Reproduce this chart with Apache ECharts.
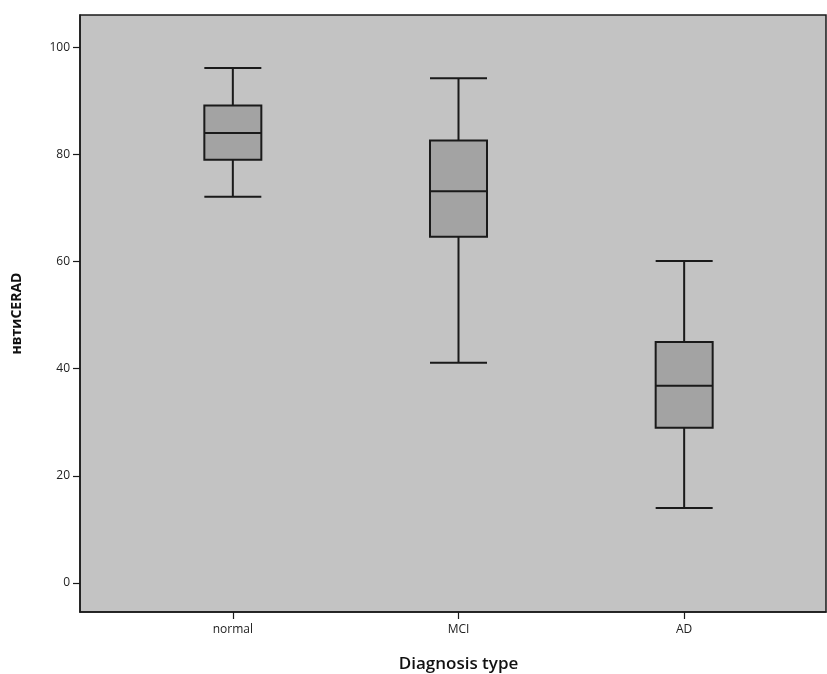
<!DOCTYPE html>
<html>
<head>
<meta charset="utf-8">
<script src="https://cdn.jsdelivr.net/npm/echarts@6/dist/echarts.min.js"></script>
<style>
  html, body { margin: 0; padding: 0; background: #fff; }
  #chart { width: 827px; height: 674px; }
</style>
</head>
<body>
<div id="chart"></div>
<script>
const categories = ['normal', 'MCI', 'AD'];
// [min, Q1, median, Q3, max]
const boxValues = [
  [72.1, 79.0, 84.0, 89.1, 96.1],
  [41.1, 64.6, 73.1, 82.6, 94.2],
  [14.0, 29.0, 36.8, 45.0, 60.1]
];
const yTicks = [0, 20, 40, 60, 80, 100];

const chart = echarts.init(document.getElementById('chart'));

const yMin = -5.4;
const yMax = 106;
const font = '"Open Sans", "DejaVu Sans", sans-serif';

const option = {
  backgroundColor: '#ffffff',
  grid: [
    {
      // frame with grey plot background
      left: 80, right: 1, top: 15, bottom: 62,
      show: true,
      backgroundColor: '#c3c3c3',
      borderColor: '#1a1a1a',
      borderWidth: 1.5,
      outerBoundsMode: 'none'
    },
    {
      // band for the three boxes
      left: 120, width: 677, top: 15, bottom: 62,
      outerBoundsMode: 'none'
    }
  ],
  xAxis: [
    {
      gridIndex: 0,
      type: 'value',
      min: 0, max: 1,
      axisLine: { show: true, onZero: false, lineStyle: { color: '#1a1a1a', width: 1.5 } },
      axisTick: { show: false },
      axisLabel: { show: false },
      splitLine: { show: false }
    },
    {
      gridIndex: 1,
      type: 'category',
      data: categories,
      axisLine: { show: false, onZero: false },
      axisTick: { show: true, alignWithLabel: true, length: 7, lineStyle: { color: '#1a1a1a', width: 1.2 } },
      axisLabel: { color: '#222', fontSize: 12, fontFamily: font, margin: 12 },
      name: 'Diagnosis type',
      nameLocation: 'middle',
      nameGap: 44,
      nameTextStyle: { color: '#111', fontSize: 17, fontWeight: 600, fontFamily: font }
    }
  ],
  yAxis: [
    {
      gridIndex: 0,
      type: 'value',
      min: yMin, max: yMax,
      axisLine: { show: true, onZero: false, lineStyle: { color: '#1a1a1a', width: 1.5 } },
      axisTick: { show: true, length: 7, customValues: yTicks, lineStyle: { color: '#1a1a1a', width: 1.2 } },
      axisLabel: { customValues: yTicks, color: '#222', fontSize: 12, fontFamily: font, margin: 10 },
      splitLine: { show: false },
      name: 'нвтиCERAD',
      nameLocation: 'middle',
      nameGap: 56,
      nameTextStyle: { color: '#111', fontSize: 14, fontWeight: 'bold', fontFamily: font }
    },
    {
      gridIndex: 1,
      type: 'value',
      min: yMin, max: yMax,
      show: false,
      splitLine: { show: false }
    }
  ],
  series: [
    {
      type: 'boxplot',
      xAxisIndex: 1,
      yAxisIndex: 1,
      boxWidth: [57, 57],
      itemStyle: { color: '#a3a3a3', borderColor: '#1a1a1a', borderWidth: 2 },
      data: boxValues
    }
  ]
};

chart.setOption(option);
</script>
</body>
</html>
